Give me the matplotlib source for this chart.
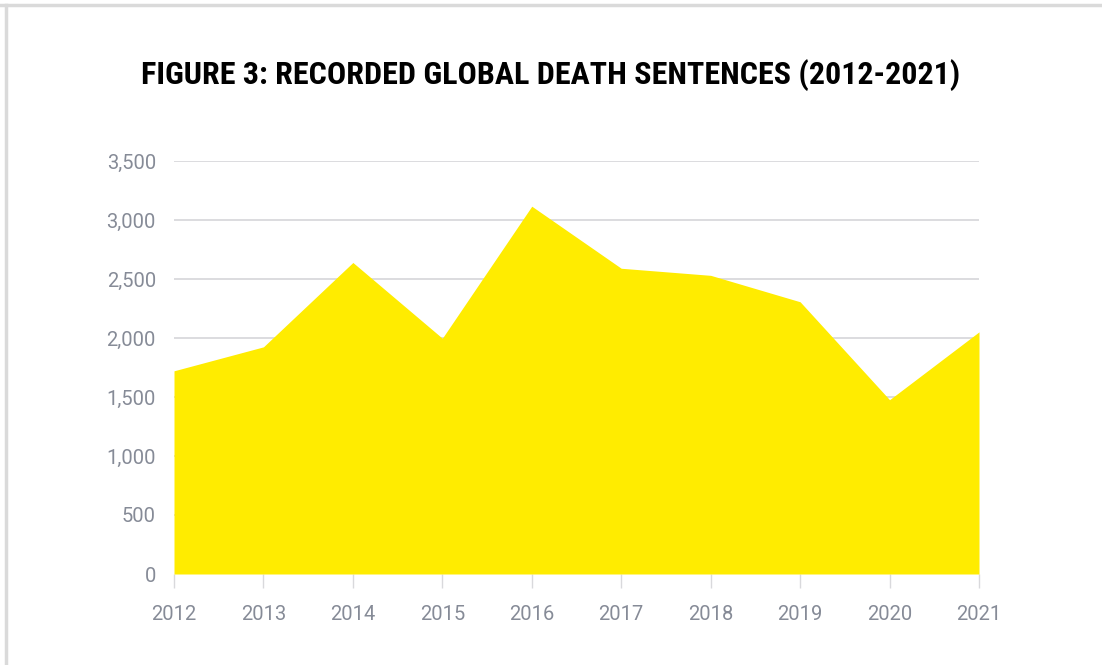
import matplotlib.pyplot as plt
from matplotlib.lines import Line2D

# recorded global death sentences
years = [2012, 2013, 2014, 2015, 2016, 2017, 2018, 2019, 2020, 2021]
sentences = [1722, 1925, 2640, 1998, 3117, 2591, 2531, 2307, 1477, 2052]
yticks = [0, 500, 1000, 1500, 2000, 2500, 3000, 3500]

YELLOW = "#FFEC00"
GREY_TEXT = "#868b97"
GRID = "#d9d9dc"

fig = plt.figure(figsize=(11.02, 6.65), dpi=100)
ax = fig.add_axes([174 / 1102, 1 - 574 / 665, (979 - 174) / 1102, (574 - 161) / 665])

ax.fill_between(years, sentences, 0, color=YELLOW, linewidth=0, zorder=2)

ax.set_xlim(years[0], years[-1])
ax.set_ylim(0, 3500)
ax.set_yticks(yticks)
ax.set_yticklabels([f"{v:,}" for v in yticks])
ax.set_xticks(years)
ax.set_xticklabels([str(y) for y in years])

for v in yticks[1:]:
    ax.axhline(v, color=GRID, linewidth=1.3, zorder=1)

for s in ax.spines.values():
    s.set_visible(False)

ax.tick_params(axis="y", length=0, pad=13, labelsize=14.5, labelcolor=GREY_TEXT)
ax.tick_params(axis="x", length=10, width=1, color=GRID, pad=12,
               labelsize=14.5, labelcolor=GREY_TEXT, direction="out")
for lab in ax.get_xticklabels() + ax.get_yticklabels():
    lab.set_fontfamily(["Roboto", "DejaVu Sans"])

fig.text(0.5, 1 - 75 / 665, "FIGURE 3: RECORDED GLOBAL DEATH SENTENCES (2012-2021)",
         ha="center", va="center", fontsize=23, fontweight="bold", fontstretch="condensed",
         family=["Roboto Condensed", "Liberation Sans Narrow", "DejaVu Sans"])

# thin frame on the top and left edge of the picture
fig.add_artist(Line2D([0, 1], [1 - 4.5 / 665, 1 - 4.5 / 665], transform=fig.transFigure,
                      color="#dadada", linewidth=2.5))
fig.add_artist(Line2D([6 / 1102, 6 / 1102], [0, 1 - 4.5 / 665], transform=fig.transFigure,
                      color="#dadada", linewidth=2.5))

fig.savefig("out.png", dpi=100)
